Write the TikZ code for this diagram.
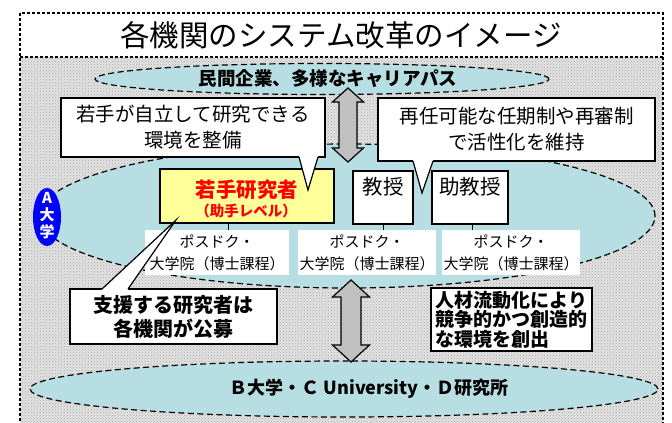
\documentclass[tikz,border=0pt]{standalone}
\usepackage{fontspec}
\setmainfont{Noto Sans CJK JP}
\usetikzlibrary{patterns,shapes.geometric,calc}
\definecolor{tealfill}{RGB}{183,222,226}
\definecolor{yelfill}{RGB}{255,255,153}
\definecolor{arrgray}{RGB}{192,192,192}
\definecolor{bggray}{RGB}{226,226,226}
\definecolor{dotgray}{RGB}{165,165,165}
\begin{document}
\begin{tikzpicture}[x=1pt,y=-1pt,
  framestyle/.style={line width=2.8pt, dash pattern=on 2.8pt off 2.2pt},
  dell/.style={ellipse, draw, line width=1.2pt, dash pattern=on 6pt off 3.5pt, fill=tealfill, inner sep=0},
  callout/.style={draw, line width=1.2pt, fill=white, inner sep=0, align=center},
  tailline/.style={line width=1.2pt, line join=miter},
  rolebox/.style={draw, line width=1.8pt, fill=white, inner sep=0},
  pdbox/.style={fill=white, inner sep=0, minimum height=45pt, align=center, font=\fontsize{15pt}{22pt}\selectfont},
  blockarrow/.style={draw, line width=1.2pt, fill=arrgray, line join=miter},
  linkline/.style={line width=0.8pt},
]
\useasboundingbox (0,0) rectangle (672,423);
\fill[white] (0,0) rectangle (672,423);
% dotted background
\fill[bggray] (20,57) rectangle (663,440);
\fill[pattern=crosshatch dots, pattern color=dotgray] (20,57) rectangle (663,440);

% ellipses
\node[dell, minimum width=454pt, minimum height=31pt] (career) at (322,79) {};
\node[font=\fontsize{18.5pt}{18.5pt}\selectfont\bfseries] (careert) at (328,79) {民間企業、多様なキャリアパス};
\node[dell, minimum width=616pt, minimum height=144pt] (auniv) at (347,216) {};
\node[dell, minimum width=628pt, minimum height=56pt] (others) at (344,389) {};
\node[font=\fontsize{18pt}{18pt}\selectfont\bfseries] (otherst) at (369,389) {Ｂ大学・Ｃ University・Ｄ研究所};

% badge
\node[ellipse, fill={rgb,255:red,0;green,0;blue,255}, minimum width=28pt, minimum height=58pt, inner sep=0] (abadge) at (47,217) {};
\node[text=white, align=center, font=\fontsize{15pt}{17pt}\selectfont\bfseries] (abadget) at (47,216) {A\\大\\学};

% role boxes
\node[rolebox, fill=yelfill, minimum width=174pt, minimum height=54pt] (young) at (247,196) {};
\node[text=red, font=\fontsize{20.5pt}{20.5pt}\selectfont\bfseries] (youngt1) at (247,190) {若手研究者};
\node[text=red, font=\fontsize{14.5pt}{14.5pt}\selectfont\bfseries] (youngt2) at (246,211) {（助手レベル）};
\node[rolebox, minimum width=60pt, minimum height=53pt] (prof) at (383,197.5) {};
\node[font=\fontsize{20.5pt}{20.5pt}\selectfont] (proft) at (383,187) {教授};
\node[rolebox, minimum width=76pt, minimum height=53pt] (aprof) at (470,197.5) {};
\node[font=\fontsize{20.5pt}{20.5pt}\selectfont] (aproft) at (470,187) {助教授};

% postdoc boxes
\node[pdbox, minimum width=144pt] (pd1) at (217,252.5) {ポスドク・\\大学院（博士課程）};
\node[pdbox, minimum width=138pt] (pd2) at (367,252.5) {ポスドク・\\大学院（博士課程）};
\node[pdbox, minimum width=138pt] (pd3) at (511,252.5) {ポスドク・\\大学院（博士課程）};
\draw[linkline] ($(young.south)+(-19,0)$) -- ($(pd1.north)+(11,0)$);
\draw[linkline] (prof.south) -- ($(pd2.north)+(16,0)$);
\draw[linkline] ($(aprof.south)+(2,0)$) -- ($(pd3.north)+(-39,0)$);

% callout 1
\node[callout, minimum width=264pt, minimum height=59pt, font=\fontsize{19.5pt}{26pt}\selectfont] (c1) at (193,127.5) {若手が自立して研究できる\\環境を整備};
\coordinate (c1b1) at (299,157);
\coordinate (c1b2) at (318,157);
\coordinate (c1tip) at (308,190);
\fill[white] (299,155.3) -- (c1b1) -- (c1tip) -- (c1b2) -- (318,155.3) -- cycle;
\draw[tailline] (c1b1) -- (c1tip) -- (c1b2);

% callout 2
\node[callout, minimum width=277pt, minimum height=63pt, font=\fontsize{19.5pt}{26pt}\selectfont] (c2) at (516.5,129.5) {再任可能な任期制や再審制\\で活性化を維持};
\coordinate (c2b1) at (413,161);
\coordinate (c2b2) at (433,161);
\coordinate (c2tip) at (422,193);
\fill[white] (413,159.3) -- (c2b1) -- (c2tip) -- (c2b2) -- (433,159.3) -- cycle;
\draw[tailline] (c2b1) -- (c2tip) -- (c2b2);

% callout 3
\node[callout, minimum width=207pt, minimum height=55pt, font=\fontsize{20pt}{24pt}\selectfont\bfseries] (c3) at (173.5,316.5) {支援する研究者は\\各機関が公募};
\coordinate (c3b1) at (102,289);
\coordinate (c3b2) at (128,289);
\coordinate (c3tip) at (176,220);
\fill[white] (102,290.7) -- (c3b1) -- (c3tip) -- (c3b2) -- (128,290.7) -- cycle;
\draw[tailline] (c3b1) -- (c3tip) -- (c3b2);

% right bottom box
\node[callout, minimum width=161pt, minimum height=63pt, align=left, font=\fontsize{19pt}{19.5pt}\selectfont\bfseries] (mob) at (511.5,319.5) {人材流動化により\\競争的かつ創造的\\な環境を創出};

% block arrows
\draw[blockarrow] (348,88) -- (363.5,102) -- (357,102) -- (357,148) -- (363.5,148) -- (348,162) -- (332.5,148) -- (339,148) -- (339,102) -- (332.5,102) -- cycle;
\draw[blockarrow] (351,280) -- (369.5,297) -- (361,297) -- (361,345) -- (369.5,345) -- (351,362) -- (332.5,345) -- (341,345) -- (341,297) -- (332.5,297) -- cycle;

% title
\fill[white] (20,13) rectangle (663,57);
\node[font=\fontsize{29.5pt}{29.5pt}\selectfont] (title) at (341,35) {各機関のシステム改革のイメージ};

% frame
\draw[framestyle] (20,13) rectangle (663,440);
\draw[framestyle] (20,57) -- (663,57);
\end{tikzpicture}
\end{document}
